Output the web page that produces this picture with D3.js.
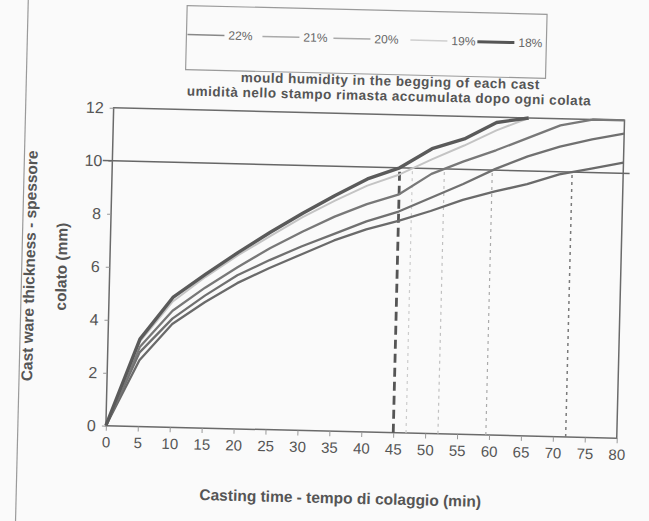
<!DOCTYPE html>
<html>
<head>
<meta charset="utf-8">
<script src="https://cdn.jsdelivr.net/npm/d3@7/dist/d3.min.js"></script>
<style>
  body { margin: 0; background: #fafafa; }
  text { font-family: Arial, "Liberation Sans", sans-serif; }
</style>
</head>
<body>
<svg id="chart" width="649" height="521"></svg>
<script>
// casting time (min)
const times = [0, 5, 10, 15, 20, 25, 30, 35, 40, 45, 50, 55, 60, 65, 70, 75, 80];
const humidity = ["22%", "21%", "20%", "19%", "18%"];

// cast ware thickness (mm) for each mould humidity
const h22 = [0, 2.5, 3.9, 4.75, 5.5, 6.1, 6.65, 7.2, 7.65, 8.0, 8.4, 8.85, 9.2, 9.5, 9.9, 10.15, 10.4];
const h21 = [0, 2.8, 4.1, 5.0, 5.8, 6.4, 6.95, 7.45, 7.95, 8.35, 8.9, 9.45, 10.05, 10.55, 10.95, 11.25, 11.5];
const h20 = [0, 3.0, 4.4, 5.3, 6.1, 6.85, 7.5, 8.1, 8.6, 9.0, 9.8, 10.3, 10.75, 11.25, 11.75, 12, 12];
const h19 = [0, 3.2, 4.75, 5.7, 6.55, 7.3, 8.05, 8.7, 9.3, 9.75, 10.35, 10.9, 11.5, 12, null, null, null];
const h18 = [0, 3.3, 4.9, 5.8, 6.65, 7.45, 8.2, 8.9, 9.55, 10.0, 10.75, 11.15, 11.8, 12, null, null, null];

// time at which each series reaches 10 mm
const reach10 = [72, 59.5, 52, 47, 45];
const target = 10;

const xTicks = [0, 5, 10, 15, 20, 25, 30, 35, 40, 45, 50, 55, 60, 65, 70, 75, 80];
const yTicks = [0, 2, 4, 6, 8, 10, 12];

const series = [h22, h21, h20, h19, h18];
const styles = [
  { color: "#6a6a6a", width: 2.3 },
  { color: "#707070", width: 2.3 },
  { color: "#787878", width: 2.3 },
  { color: "#c4c4c4", width: 2 },
  { color: "#5a5a5a", width: 3.4 }
];
const guideStyles = [
  { color: "#7a7a7a", width: 1.5, dash: "3,4" },
  { color: "#aaaaaa", width: 1.2, dash: "3,4" },
  { color: "#c0c0c0", width: 1.2, dash: "3,4" },
  { color: "#cccccc", width: 1.2, dash: "3,4" },
  { color: "#555555", width: 2.8, dash: "9,5" }
];

const svg = d3.select("#chart");
// the scanned original is slightly tilted
const g = svg.append("g").attr("transform", "rotate(1.4,324,260)");

const plotLeft = 110, plotRight = 621, plotTop = 113, plotBottom = 431;

const x = d3.scaleLinear().domain([0, 80]).range([plotLeft, plotRight]);
const y = d3.scaleLinear().domain([0, 12]).range([plotBottom, plotTop]).clamp(true);

// chart border (page edge)
g.append("line").attr("x1", 22).attr("x2", 22).attr("y1", -20).attr("y2", 560)
  .attr("stroke", "#9a9a9a").attr("stroke-width", 1.2);

// legend box
const legend = g.append("g");
legend.append("rect").attr("x", 181).attr("y", 9).attr("width", 360).attr("height", 64)
  .attr("fill", "none").attr("stroke", "#9a9a9a").attr("stroke-width", 1.2);
const legX = [182, 257, 328, 405, 472];
humidity.forEach((h, i) => {
  legend.append("line")
    .attr("x1", legX[i]).attr("x2", legX[i] + 37)
    .attr("y1", 38).attr("y2", 38)
    .attr("stroke", i === 4 ? "#555" : i === 3 ? "#cfcfcf" : i === 0 ? "#888" : "#aaa")
    .attr("stroke-width", i === 4 ? 3 : 1.5);
  legend.append("text")
    .attr("x", legX[i] + 41).attr("y", 42)
    .attr("font-size", 12).attr("fill", "#666")
    .text(h);
});

// subtitle
g.append("text").attr("x", 386).attr("y", 84).attr("text-anchor", "middle")
  .attr("font-size", 13.5).attr("font-weight", "bold").attr("fill", "#555")
  .attr("letter-spacing", 0.5)
  .text("mould humidity in the begging of each cast");
g.append("text").attr("x", 385).attr("y", 99).attr("text-anchor", "middle")
  .attr("font-size", 13.5).attr("font-weight", "bold").attr("fill", "#555")
  .attr("letter-spacing", 0.5)
  .text("umidità nello stampo rimasta accumulata dopo ogni colata");

// plot frame
g.append("rect").attr("x", plotLeft).attr("y", plotTop)
  .attr("width", plotRight - plotLeft).attr("height", plotBottom - plotTop)
  .attr("fill", "none").attr("stroke", "#6a6a6a").attr("stroke-width", 1.5);

// y axis
const yAxis = g.append("g").attr("transform", `translate(${plotLeft},0)`)
  .call(d3.axisLeft(y).tickValues(yTicks).tickSize(4).tickPadding(6));
yAxis.select(".domain").remove();
yAxis.selectAll("line").attr("stroke", "#999");
yAxis.selectAll("text").attr("font-size", 16).attr("fill", "#555")
  .attr("font-family", "Arial, 'Liberation Sans', sans-serif");

// x axis
const xAxis = g.append("g").attr("transform", `translate(0,${plotBottom})`)
  .call(d3.axisBottom(x).tickValues(xTicks).tickSize(5).tickPadding(6));
xAxis.select(".domain").remove();
xAxis.selectAll("line").attr("stroke", "#999");
xAxis.selectAll("text").attr("font-size", 15).attr("fill", "#555")
  .attr("font-family", "Arial, 'Liberation Sans', sans-serif");

// axis titles
g.append("text").attr("x", 346).attr("y", 503).attr("text-anchor", "middle")
  .attr("font-size", 15.5).attr("font-weight", "bold").attr("fill", "#555")
  .text("Casting time - tempo di colaggio (min)");
g.append("text").attr("transform", "translate(35,273) rotate(-90)")
  .attr("text-anchor", "middle")
  .attr("font-size", 15.5).attr("font-weight", "bold").attr("fill", "#555")
  .text("Cast ware thickness - spessore");
g.append("text").attr("transform", "translate(67,273) rotate(-90)")
  .attr("text-anchor", "middle")
  .attr("font-size", 15.5).attr("font-weight", "bold").attr("fill", "#555")
  .text("colato (mm)");

// 10 mm reference line
g.append("line")
  .attr("x1", x(-1.5)).attr("x2", x(81))
  .attr("y1", y(target)).attr("y2", y(target))
  .attr("stroke", "#666").attr("stroke-width", 1.5);

// vertical guides where each curve reaches 10 mm
reach10.forEach((t, i) => {
  g.append("line")
    .attr("x1", x(t)).attr("x2", x(t))
    .attr("y1", y(0)).attr("y2", y(target))
    .attr("stroke", guideStyles[i].color)
    .attr("stroke-width", guideStyles[i].width)
    .attr("stroke-dasharray", guideStyles[i].dash);
});

// curves
const line = d3.line()
  .defined((d) => d[1] !== null)
  .x((d) => x(d[0]))
  .y((d) => y(d[1]));

series.forEach((vals, i) => {
  g.append("path")
    .datum(times.map((t, k) => [t, vals[k]]))
    .attr("fill", "none")
    .attr("stroke", styles[i].color)
    .attr("stroke-width", styles[i].width)
    .attr("stroke-linejoin", "round")
    .attr("d", line);
});
</script>
</body>
</html>
